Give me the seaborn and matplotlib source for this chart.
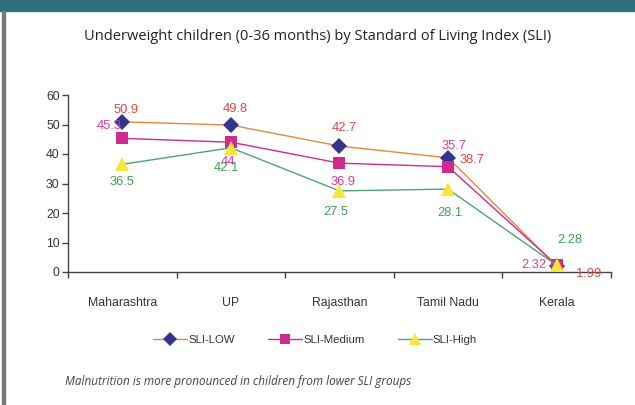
import matplotlib
matplotlib.use("Agg")
import matplotlib.pyplot as plt
import seaborn as sns
import numpy as np
import pandas as pd
from matplotlib.patches import Rectangle
from matplotlib.lines import Line2D


# --------------------------------------------------
# Data
# --------------------------------------------------

states = ["Maharashtra", "UP", "Rajasthan", "Tamil Nadu", "Kerala"]
sli_low = [50.9, 49.8, 42.7, 38.7, 1.99]
sli_medium = [45.3, 44.0, 36.9, 35.7, 2.32]
sli_high = [36.5, 42.1, 27.5, 28.1, 2.28]
series_names = ["SLI-LOW", "SLI-Medium", "SLI-High"]

# label offsets in pixels (dx, dy) and alignment for each point
low_offsets = [(4, 12, "center"), (4, 16, "center"), (5, 18, "center"), (11, -2, "left"), (19, -8, "left")]
med_offsets = [(-1, 12, "right"), (-3, -20, "center"), (4, -19, "center"), (6, 21, "center"), (-10, 0, "right")]
high_offsets = [(0, -18, "center"), (-5, -20, "center"), (-4, -21, "center"), (2, -24, "center"), (13, 25, "center")]

styles = {
    "SLI-LOW": dict(line="#e8863c", marker="D", mfc="#343490", ms=8, text="#dd4444"),
    "SLI-Medium": dict(line="#cf2a8e", marker="s", mfc="#cf2a8e", ms=8.5, text="#d93a9c"),
    "SLI-High": dict(line="#4aa57c", marker="^", mfc="#f5e63c", ms=10, text="#3f9f58"),
}

df = pd.DataFrame({
    "state": states * 3,
    "pos": list(range(len(states))) * 3,
    "value": sli_low + sli_medium + sli_high,
    "sli": [n for n in series_names for _ in states],
})

# --------------------------------------------------
# Figure
# --------------------------------------------------

sns.set_style("white")
plt.rcParams["font.family"] = ["Liberation Sans", "DejaVu Sans"]

fig = plt.figure(figsize=(6.35, 4.05), dpi=100)
ax = fig.add_axes([68 / 635, 1 - 272 / 405, (611 - 68) / 635, (272 - 95) / 405])

# frame decorations
fig.patches.append(Rectangle((0, 1 - 11 / 405), 1, 11 / 405, transform=fig.transFigure,
                             color="#2f6e7c", zorder=0))
fig.patches.append(Rectangle((2 / 635, 0), 3 / 635, 1 - 11 / 405, transform=fig.transFigure,
                             color="#7a7a7a", zorder=0))

for name in series_names:
    st = styles[name]
    sub = df[df["sli"] == name]
    sns.lineplot(data=sub, x="pos", y="value", ax=ax, color=st["line"], lw=1.0,
                 marker=st["marker"], markersize=st["ms"], markerfacecolor=st["mfc"],
                 markeredgecolor=st["mfc"], markeredgewidth=0, legend=False, zorder=3)

for name, offs in zip(series_names, [low_offsets, med_offsets, high_offsets]):
    sub = df[df["sli"] == name]
    for (x, v), (dx, dy, ha) in zip(zip(sub["pos"], sub["value"]), offs):
        txt = f"{v:g}"
        ax.annotate(txt, (x, v), xytext=(dx, dy), textcoords="offset pixels",
                    ha=ha, va="center", fontsize=9.3, color=styles[name]["text"], zorder=5)

ax.set_xlim(-0.5, len(states) - 0.5)
ax.set_ylim(0, 60)
ax.set_yticks(np.arange(0, 61, 10))
ax.set_xticks(range(len(states)))
ax.set_xticklabels(states)
ax.set_xticks(np.arange(-0.5, len(states), 1), minor=True)
ax.tick_params(axis="x", which="major", bottom=True, length=0, pad=18, labelsize=8.8,
               labelcolor="#333333")
ax.tick_params(axis="x", which="minor", bottom=True, length=4, width=1, color="#444444",
               direction="out")
ax.tick_params(axis="y", left=True, length=4, width=1, color="#444444", pad=2, labelsize=8.8,
               labelcolor="#333333", direction="out")
ax.set_xlabel("")
ax.set_ylabel("")
sns.despine(ax=ax)
for s in ["left", "bottom"]:
    ax.spines[s].set_color("#444444")
    ax.spines[s].set_linewidth(1)

# title
fig.text(318 / 635, 1 - 36 / 405, "Underweight children (0-36 months) by Standard of Living Index (SLI)",
         ha="center", va="center", fontsize=10.5, color="#222222", family=["Open Sans", "DejaVu Sans"])

# legend
handles = [Line2D([0], [0], color=styles[n]["line"], lw=1.0, marker=styles[n]["marker"],
                  markersize=styles[n]["ms"] - 1, markerfacecolor=styles[n]["mfc"],
                  markeredgewidth=0) for n in series_names]
fig.legend(handles, series_names, loc="center", bbox_to_anchor=(315 / 635, 1 - 340 / 405),
           ncol=3, frameon=False, fontsize=8.2, handlelength=3.0, handletextpad=0.1,
           columnspacing=2.9, labelcolor="#333333")

# footnote
fig.text(65 / 635, 1 - 382 / 405, "Malnutrition is more pronounced in children from lower SLI groups",
         ha="left", va="center", fontsize=8.5, style="italic", color="#444444",
         family=["Open Sans", "DejaVu Sans"])

fig.savefig("out.png", dpi=100)
